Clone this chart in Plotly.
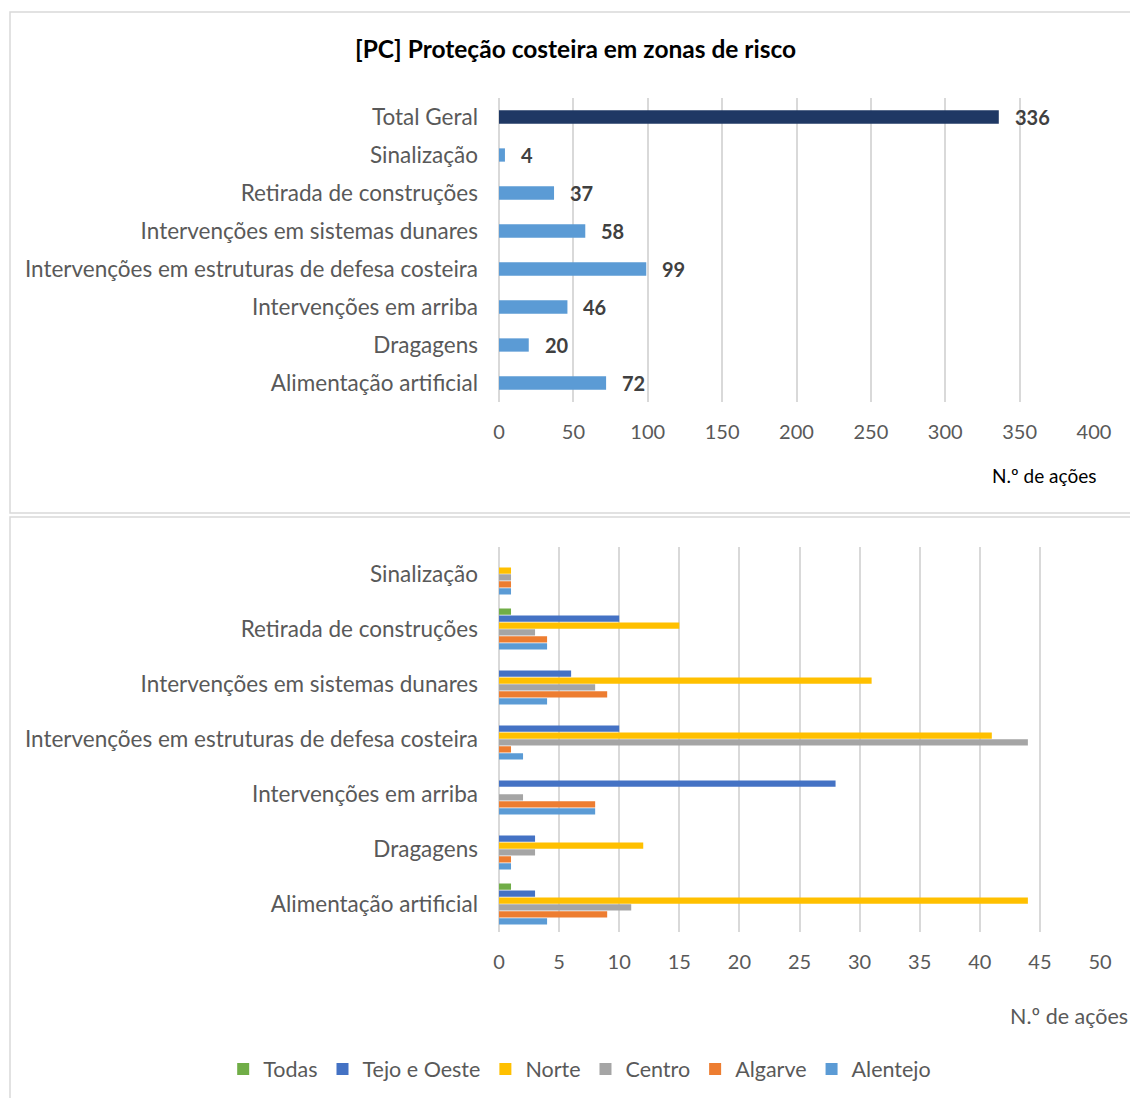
import plotly.graph_objects as go

W, H = 1130, 1098

# ---- data: top chart ----
top_categories = ["Alimentação artificial", "Dragagens", "Intervenções em arriba",
                  "Intervenções em estruturas de defesa costeira", "Intervenções em sistemas dunares",
                  "Retirada de construções", "Sinalização", "Total Geral"]
top_values = [72, 20, 46, 99, 58, 37, 4, 336]

# ---- data: bottom chart ----
bottom_categories = ["Alimentação artificial", "Dragagens", "Intervenções em arriba",
                     "Intervenções em estruturas de defesa costeira", "Intervenções em sistemas dunares",
                     "Retirada de construções", "Sinalização"]
alentejo = [4, 1, 8, 2, 4, 4, 1]
algarve = [9, 1, 8, 1, 9, 4, 1]
centro = [11, 3, 2, 44, 8, 3, 1]
norte = [44, 12, 0, 41, 31, 15, 1]
tejo_oeste = [3, 3, 28, 10, 6, 10, 0]
todas = [1, 0, 0, 0, 0, 1, 0]

top_ticks = [0, 50, 100, 150, 200, 250, 300, 350, 400]
bottom_ticks = [0, 5, 10, 15, 20, 25, 30, 35, 40, 45, 50]

FONT = "Lato"
TICKC = "#595959"
GRID = "#D9D9D9"

def px_x(p):
    return p / W

def px_y(p):
    return 1 - p / H

fig = go.Figure()

top_colors = ["#5B9BD5"] * (len(top_values) - 1) + ["#1F3864"]
fig.add_trace(go.Bar(
    y=top_categories, x=top_values, orientation="h", width=0.35,
    marker=dict(color=top_colors, line=dict(width=0)),
    showlegend=False, xaxis="x", yaxis="y", hoverinfo="x+y"))

series = [("Alentejo", alentejo, "#5B9BD5"), ("Algarve", algarve, "#ED7D31"),
          ("Centro", centro, "#A5A5A5"), ("Norte", norte, "#FFC000"),
          ("Tejo e Oeste", tejo_oeste, "#4472C4"), ("Todas", todas, "#70AD47")]
for name, vals, col in series:
    fig.add_trace(go.Bar(
        y=bottom_categories, x=vals, name=name, orientation="h",
        marker=dict(color=col, line=dict(width=0)),
        xaxis="x2", yaxis="y2"))

annotations = []
for cat, v in zip(top_categories, top_values):
    annotations.append(dict(
        x=v, y=cat, xref="x", yref="y", text="<b>%d</b>" % v, showarrow=False,
        xanchor="left", yanchor="middle", xshift=14,
        font=dict(family=FONT, size=20, color="#404040")))

annotations.append(dict(
    x=px_x(575), y=px_y(48), xref="paper", yref="paper",
    text="<b>[PC] Proteção costeira em zonas de risco</b>", showarrow=False,
    xanchor="center", yanchor="middle",
    font=dict(family=FONT, size=24.5, color="#000000")))
annotations.append(dict(
    x=px_x(1098), y=px_y(476), xref="paper", yref="paper", text="N.º de ações",
    showarrow=False, xanchor="right", yanchor="middle",
    font=dict(family=FONT, size=19, color="#000000")))
annotations.append(dict(
    x=px_x(1130), y=px_y(1016), xref="paper", yref="paper", text="N.º de ações",
    showarrow=False, xanchor="right", yanchor="middle",
    font=dict(family=FONT, size=21.5, color=TICKC)))

shapes = [
    dict(type="rect", xref="paper", yref="paper", x0=px_x(10), x1=px_x(1140),
         y0=px_y(513), y1=px_y(12), line=dict(color=GRID, width=1.5)),
    dict(type="rect", xref="paper", yref="paper", x0=px_x(10), x1=px_x(1140),
         y0=px_y(1105), y1=px_y(517), line=dict(color=GRID, width=1.5)),
]

axis_common = dict(showgrid=True, gridcolor=GRID, gridwidth=1.5, zeroline=True,
                   zerolinecolor=GRID, zerolinewidth=1.5, showline=False, automargin=False,
                   tickfont=dict(family=FONT, size=20, color=TICKC), ticklabelstandoff=16,
                   fixedrange=True)
cat_common = dict(showgrid=False, zeroline=False, showline=False, type="category",
                  automargin=False,
                  tickfont=dict(family=FONT, size=22.5, color=TICKC), ticklabelstandoff=20,
                  fixedrange=True)

fig.update_layout(
    width=W, height=H, autosize=False, margin=dict(l=0, r=0, t=0, b=0, pad=0),
    paper_bgcolor="white", plot_bgcolor="white",
    barmode="group", bargap=0.24, bargroupgap=0.1,
    xaxis=dict(domain=[px_x(499), px_x(1094)], range=[0, 400], tickvals=top_ticks,
               anchor="y", **axis_common),
    yaxis=dict(domain=[px_y(402), px_y(98)], anchor="x",
               categoryorder="array", categoryarray=top_categories, **cat_common),
    xaxis2=dict(domain=[px_x(499), px_x(1100)], range=[0, 50], tickvals=bottom_ticks,
                anchor="y2", **axis_common),
    yaxis2=dict(domain=[px_y(931.5), px_y(546.5)], anchor="x2",
                categoryorder="array", categoryarray=bottom_categories, **cat_common),
    legend=dict(orientation="h", x=0.513, xanchor="center", y=px_y(1069), yanchor="middle",
                traceorder="reversed", font=dict(family=FONT, size=21.5, color=TICKC),
                itemwidth=30, bgcolor="rgba(0,0,0,0)"),
    annotations=annotations, shapes=shapes,
)

fig.write_html("out.html",
               config={"responsive": False, "displayModeBar": False},
               post_script="document.body.style.margin='0';document.body.style.overflow='hidden';")
